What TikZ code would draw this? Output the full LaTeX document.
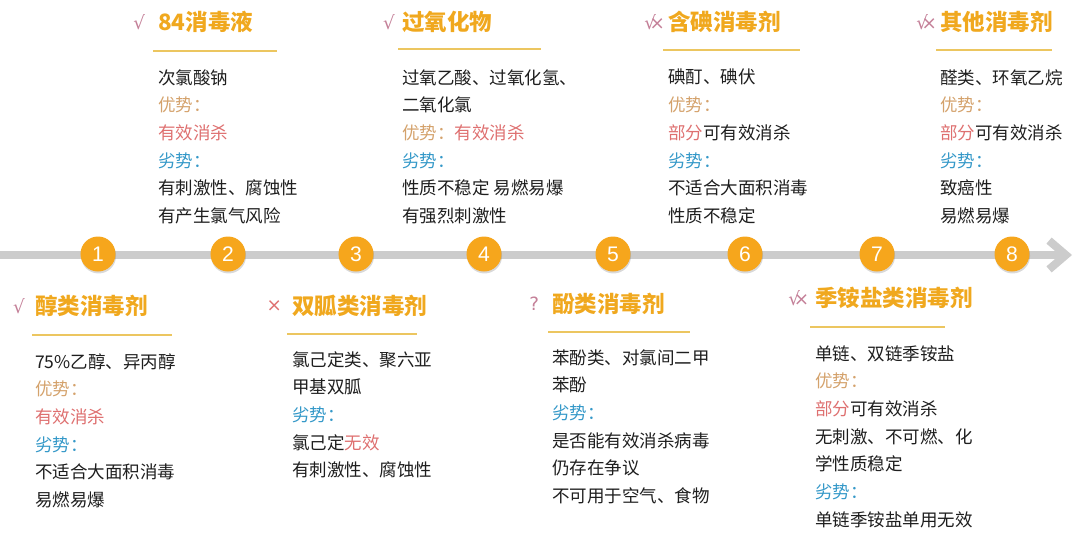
\documentclass[tikz,border=0pt]{standalone}
\usepackage{fontspec}
\usepackage{xcolor}
\usepackage{tikz}
\usetikzlibrary{arrows.meta,positioning,shadows}
\setmainfont{Noto Sans CJK SC}
\newfontfamily\numfont{Liberation Sans}
\newfontfamily\markfont{DejaVu Sans}
\definecolor{titleorange}{RGB}{240,168,30}
\definecolor{rulegold}{RGB}{236,198,96}
\definecolor{prostan}{RGB}{212,162,108}
\definecolor{goodred}{RGB}{222,112,112}
\definecolor{consblue}{RGB}{52,152,200}
\definecolor{markpink}{RGB}{196,128,152}
\definecolor{bargray}{RGB}{204,204,204}
\definecolor{dotorange}{RGB}{246,166,28}
\definecolor{textdark}{RGB}{30,30,30}
\newcommand{\pros}{\textcolor{prostan}{优势：}}
\newcommand{\cons}{\textcolor{consblue}{劣势：}}
\newcommand{\good}[1]{\textcolor{goodred}{#1}}
\newcommand{\maybe}{√\kern-4.5pt×}

\begin{document}
\begin{tikzpicture}[
    x=0.025cm, y=-0.025cm,
    node distance=6pt,
    dot/.style={circle, fill=dotorange, minimum size=0.875cm, inner sep=0pt, text=white, font=\numfont\fontsize{15}{15}\selectfont, drop shadow={shadow xshift=0.4pt, shadow yshift=-1.4pt, opacity=0.3}},
    heading/.style={anchor=west, inner sep=0pt, text=titleorange, font=\fontsize{16}{16}\selectfont\bfseries},
    verdict/.style={inner sep=0pt, text=markpink, font=\markfont\fontsize{13}{13}\selectfont},
    body/.style={anchor=north west, inner sep=0pt, align=left, text=textdark, font=\fontsize{12.45}{19.7}\selectfont},
    rule/.style={draw=rulegold, line width=2pt},
    timeline/.style={draw=bargray, line width=5.7pt, -{Straight Barb[length=0.42cm, width=0.72cm]}}
]
    \useasboundingbox (0,0) rectangle (1080,541);

    % timeline
    \coordinate (start) at (0,255);
    \coordinate (tip) at (1072,255);
    \draw[timeline] (start) -- (tip);
    \foreach \x/\n in {98/1, 228/2, 356/3, 484/4, 613/5, 745/6, 877/7, 1012/8}
        \node[dot] (dot\n) at (\x,254) {\n};

    % top row
    \node[heading] (chlorine) at (158,22) {84消毒液};
    \node[verdict, left=9pt of chlorine] (chlorinemark) {√};
    \draw[rule] (153,51) -- (277,51);
    \node[body] (chlorinebody) at (158,69) {次氯酸钠\\\pros\\\good{有效消杀}\\\cons\\有刺激性、腐蚀性\\有产生氯气风险};

    \node[heading] (peroxide) at (402,22) {过氧化物};
    \node[verdict, left=5pt of peroxide] (peroxidemark) {√};
    \draw[rule] (398,49) -- (541,49);
    \node[body] (peroxidebody) at (402,69) {过氧乙酸、过氧化氢、\\二氧化氯\\\pros\good{有效消杀}\\\cons\\性质不稳定 易燃易爆\\有强烈刺激性};

    \node[heading] (iodine) at (668,22) {含碘消毒剂};
    \node[verdict, left=2pt of iodine] (iodinemark) {\maybe};
    \draw[rule] (663,50) -- (800,50);
    \node[body] (iodinebody) at (668,69) {碘酊、碘伏\\\pros\\\good{部分}可有效消杀\\\cons\\不适合大面积消毒\\性质不稳定};

    \node[heading] (other) at (940,22) {其他消毒剂};
    \node[verdict, left=2pt of other] (othermark) {\maybe};
    \draw[rule] (936,50) -- (1052,50);
    \node[body] (otherbody) at (940,69) {醛类、环氧乙烷\\\pros\\\good{部分}可有效消杀\\\cons\\致癌性\\易燃易爆};

    % bottom row
    \node[heading] (alcohol) at (35,306) {醇类消毒剂};
    \node[verdict, left=7pt of alcohol] (alcoholmark) {√};
    \draw[rule] (32,335) -- (172,335);
    \node[body] (alcoholbody) at (35,353) {75\%乙醇、异丙醇\\\pros\\\good{有效消杀}\\\cons\\不适合大面积消毒\\易燃易爆};

    \node[heading] (biguanide) at (292,306) {双胍类消毒剂};
    \node[verdict, text=goodred, left=7pt of biguanide] (biguanidemark) {×};
    \draw[rule] (287,334) -- (417,334);
    \node[body] (biguanidebody) at (292,351) {氯己定类、聚六亚\\甲基双胍\\\cons\\氯己定\good{无效}\\有刺激性、腐蚀性};

    \node[heading] (phenol) at (552,304) {酚类消毒剂};
    \node[verdict, left=9pt of phenol] (phenolmark) {?};
    \draw[rule] (548,332) -- (690,332);
    \node[body] (phenolbody) at (552,349) {苯酚类、对氯间二甲\\苯酚\\\cons\\是否能有效消杀病毒\\仍存在争议\\不可用于空气、食物};

    \node[heading] (quat) at (815,298) {季铵盐类消毒剂};
    \node[verdict, left=4pt of quat] (quatmark) {\maybe};
    \draw[rule] (810,327) -- (945,327);
    \node[body] (quatbody) at (815,345) {单链、双链季铵盐\\\pros\\\good{部分}可有效消杀\\无刺激、不可燃、化\\学性质稳定\\\cons\\单链季铵盐单用无效};
\end{tikzpicture}
\end{document}
